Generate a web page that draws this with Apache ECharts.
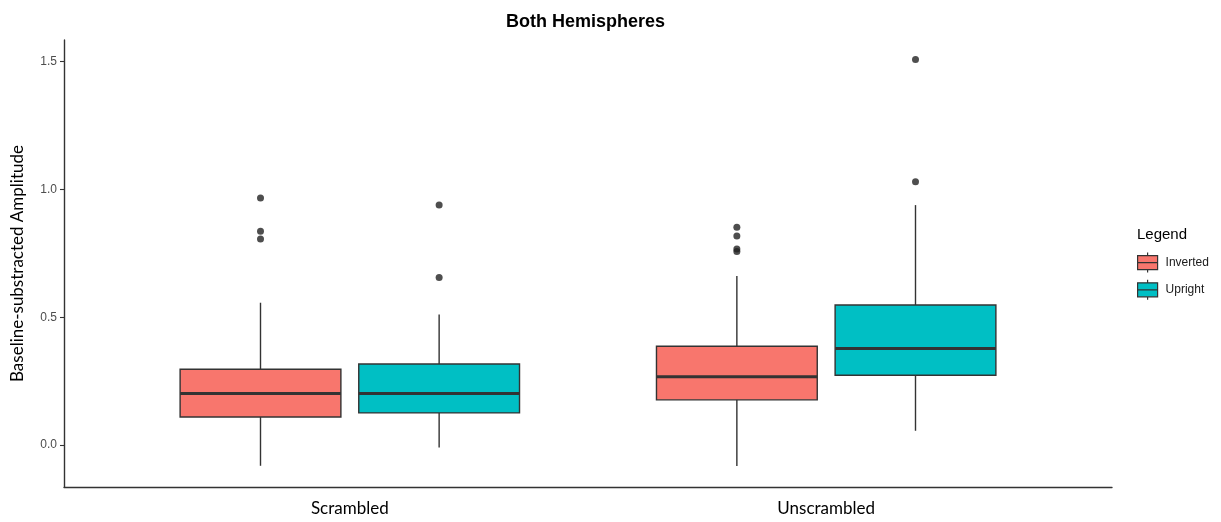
<!DOCTYPE html>
<html><head><meta charset="utf-8">
<script src="https://cdn.jsdelivr.net/npm/echarts@6/dist/echarts.min.js"></script>
<style>html,body{margin:0;padding:0;background:#fff}#c{width:1221px;height:522px}</style>
</head><body><div id="c"></div>
<script>
const categories = ['Scrambled', 'Unscrambled'];
const groups = ['Inverted', 'Upright'];
// per category: [lower whisker, Q1, median, Q3, upper whisker]
const invertedBoxes = [
  [-0.081, 0.110, 0.202, 0.297, 0.557],
  [-0.082, 0.177, 0.267, 0.387, 0.662]
];
const uprightBoxes = [
  [-0.009, 0.126, 0.202, 0.317, 0.511],
  [0.056, 0.273, 0.378, 0.548, 0.939]
];
const invertedOutliers = [
  [0.967, 0.837, 0.806],
  [0.852, 0.818, 0.767, 0.757]
];
const uprightOutliers = [
  [0.939, 0.656],
  [1.509, 1.030]
];
const yTicks = [0, 0.5, 1.0, 1.5];

const colors = { Inverted: '#F8766D', Upright: '#00BFC4' };
const DODGE = 0.1875;
const BOX_W = 0.3375;
const STROKE = '#333333';

function boxData(boxes) {
  return boxes.map((b, i) => [i + 1].concat(b));
}
function outlierData(outs, offset) {
  const res = [];
  outs.forEach((arr, i) => arr.forEach(v => res.push([i + 1 + offset, v])));
  return res;
}
function makeRender(offset, color) {
  return function (params, api) {
    const x = api.value(0) + offset;
    const pLo = api.coord([x, api.value(1)]);
    const pQ1 = api.coord([x, api.value(2)]);
    const pMed = api.coord([x, api.value(3)]);
    const pQ3 = api.coord([x, api.value(4)]);
    const pHi = api.coord([x, api.value(5)]);
    const w = api.size([BOX_W, 0])[0];
    const cx = pMed[0];
    return {
      type: 'group',
      children: [
        { type: 'line', shape: { x1: cx, y1: pQ3[1], x2: cx, y2: pHi[1] }, style: { stroke: STROKE, lineWidth: 1.4 } },
        { type: 'line', shape: { x1: cx, y1: pQ1[1], x2: cx, y2: pLo[1] }, style: { stroke: STROKE, lineWidth: 1.4 } },
        { type: 'rect', shape: { x: cx - w / 2, y: pQ3[1], width: w, height: pQ1[1] - pQ3[1] }, style: { fill: color, stroke: STROKE, lineWidth: 1.4 } },
        { type: 'line', shape: { x1: cx - w / 2, y1: pMed[1], x2: cx + w / 2, y2: pMed[1] }, style: { stroke: STROKE, lineWidth: 3 } }
      ]
    };
  };
}

const chart = echarts.init(document.getElementById('c'), null, { renderer: 'canvas' });
const legendIcon = 'path://M0,3 L20,3 L20,17 L0,17 Z M0,10 L20,10 M10,0 L10,3 M10,17 L10,20';

chart.setOption({
  animation: false,
  backgroundColor: '#ffffff',
  title: [
    { text: 'Both Hemispheres', left: 501, top: 8,
      textStyle: { fontSize: 18, fontWeight: 'bold', color: '#000', fontFamily: 'Liberation Sans' } },
    { text: 'Legend', left: 1132, top: 222,
      textStyle: { fontSize: 15, fontWeight: 'normal', color: '#000', fontFamily: 'Liberation Sans' } }
  ],
  legend: {
    data: groups,
    orient: 'vertical',
    left: 1132, top: 247,
    icon: legendIcon,
    itemWidth: 20, itemHeight: 20, itemGap: 6,
    itemStyle: { borderColor: STROKE, borderWidth: 1.2 },
    textStyle: { fontSize: 12, color: '#1a1a1a', fontFamily: 'Liberation Sans', padding: [0, 0, 0, 3] }
  },
  grid: { left: 64, right: 109, top: 40, bottom: 35, containLabel: false },
  xAxis: {
    type: 'value', min: 0.4, max: 2.6,
    axisLine: { show: true, onZero: false, lineStyle: { color: STROKE, width: 1.4 } },
    axisTick: { show: false },
    splitLine: { show: false },
    axisLabel: {
      customValues: [1, 2],
      formatter: v => categories[Math.round(v) - 1],
      fontFamily: 'Lato', fontSize: 17, color: '#000', margin: 13
    }
  },
  yAxis: {
    type: 'value', min: -0.164, max: 1.585,
    name: 'Baseline-substracted Amplitude',
    nameLocation: 'middle', nameGap: 38, nameRotate: 90,
    nameTextStyle: { fontFamily: 'Lato', fontSize: 17, color: '#000' },
    axisLine: { show: true, onZero: false, lineStyle: { color: STROKE, width: 1.4 } },
    axisTick: { show: true, customValues: yTicks, length: 4, lineStyle: { color: STROKE, width: 1.1 } },
    splitLine: { show: false },
    axisLabel: {
      customValues: yTicks,
      formatter: v => v.toFixed(1),
      fontFamily: 'Liberation Sans', fontSize: 12, color: '#4d4d4d', margin: 7
    }
  },
  series: [
    { name: 'Inverted', type: 'custom', itemStyle: { color: colors.Inverted },
      renderItem: makeRender(-DODGE, colors.Inverted),
      encode: { x: 0, y: [1, 2, 3, 4, 5] },
      data: boxData(invertedBoxes) },
    { name: 'Upright', type: 'custom', itemStyle: { color: colors.Upright },
      renderItem: makeRender(DODGE, colors.Upright),
      encode: { x: 0, y: [1, 2, 3, 4, 5] },
      data: boxData(uprightBoxes) },
    { name: 'Inverted outliers', type: 'scatter', symbolSize: 7,
      itemStyle: { color: '#222' }, data: outlierData(invertedOutliers, -DODGE) },
    { name: 'Upright outliers', type: 'scatter', symbolSize: 7,
      itemStyle: { color: '#222' }, data: outlierData(uprightOutliers, DODGE) }
  ]
});
</script>
</body></html>
